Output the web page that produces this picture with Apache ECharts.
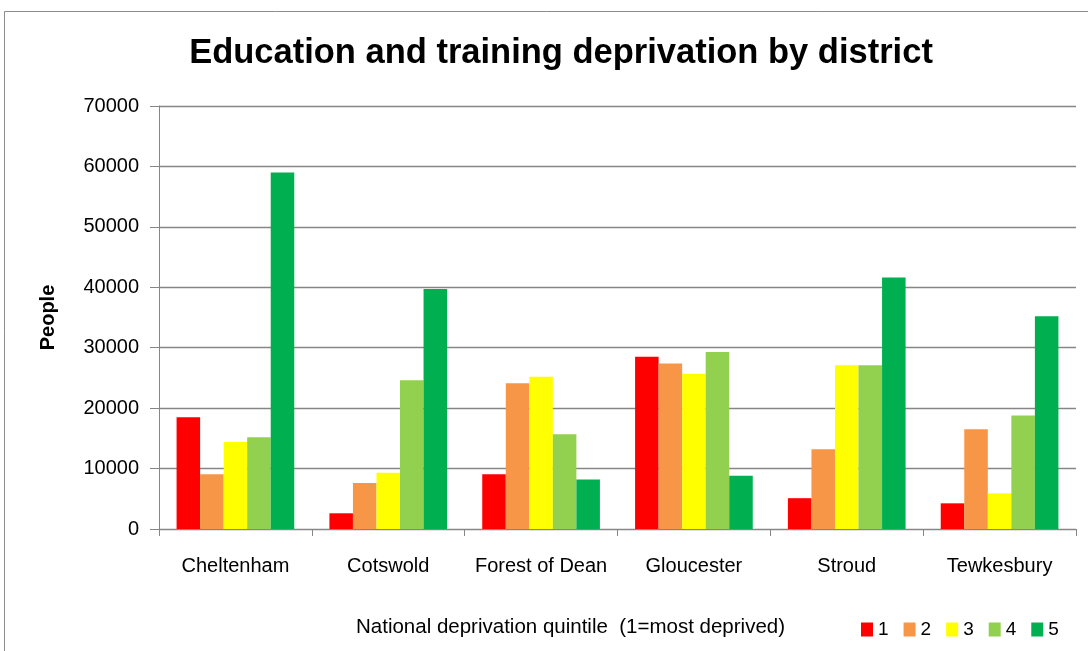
<!DOCTYPE html>
<html style="height: 100%">

<head>
  <meta charset="UTF-8" />
  <title>Education and training deprivation by district</title>
  <script src="https://cdn.jsdelivr.net/npm/echarts@6/dist/echarts.min.js"></script>
</head>

<body style="height: 100%; margin: 0; background: #fff">
  <div id="main" style="width: 1088px; height: 651px"></div>
  <script>
    const districts = ['Cheltenham', 'Cotswold', 'Forest of Dean', 'Gloucester', 'Stroud', 'Tewkesbury'];
    const quintiles = ['1', '2', '3', '4', '5'];
    const colors = ['#FF0000', '#F79646', '#FFFF00', '#92D050', '#00B050'];

    // people per district, one array per quintile
    const q1 = [18500, 2600, 9050, 28500, 5100, 4250];
    const q2 = [9050, 7600, 24100, 27400, 13200, 16500];
    const q3 = [14400, 9300, 25200, 25700, 27100, 5900];
    const q4 = [15200, 24600, 15700, 29300, 27100, 18800];
    const q5 = [59000, 39700, 8200, 8800, 41600, 35200];
    const values = [q1, q2, q3, q4, q5];

    const font = '"Liberation Sans", Arial, sans-serif';
    const chart = echarts.init(document.getElementById('main'));

    const option = {
      animation: false,
      backgroundColor: '#fff',
      textStyle: { fontFamily: font },
      title: [
        {
          text: 'Education and training deprivation by district',
          left: 556,
          textAlign: 'center',
          top: 31,
          textStyle: { fontSize: 34.5, fontWeight: 'bold', color: '#000', fontFamily: font },
        },
        {
          text: 'National deprivation quintile  (1=most deprived)',
          left: 351,
          top: 612,
          textStyle: { fontSize: 20.5, fontWeight: 'normal', color: '#000', fontFamily: font },
        },
      ],
      legend: {
        left: 856,
        top: 615,
        itemWidth: 12,
        itemHeight: 14,
        itemGap: 15,
        icon: 'rect',
        textStyle: { fontSize: 19, color: '#000', fontFamily: font },
        data: quintiles,
      },
      graphic: [
        {
          type: 'rect',
          shape: { x: 4.5, y: 11.5, width: 1100, height: 700 },
          style: { fill: 'none', stroke: '#8c8c8c', lineWidth: 1 },
          silent: true,
        },
      ],
      grid: { left: 159, right: 12, top: 106, bottom: 122 },
      xAxis: {
        type: 'category',
        data: districts,
        axisLine: { lineStyle: { color: '#868686' } },
        axisTick: { show: true, length: 7, lineStyle: { color: '#868686' } },
        axisLabel: { interval: 0, fontSize: 20, color: '#000', margin: 27, fontFamily: font },
      },
      yAxis: {
        type: 'value',
        min: 0,
        max: 70000,
        interval: 10000,
        name: 'People',
        nameLocation: 'middle',
        nameGap: 101,
        nameTextStyle: { fontSize: 20, fontWeight: 'bold', color: '#000', fontFamily: font },
        axisLine: { show: true, lineStyle: { color: '#868686' } },
        axisTick: { show: true, length: 9, lineStyle: { color: '#868686' } },
        axisLabel: {
          fontSize: 20,
          color: '#000',
          margin: 20,
          fontFamily: font,
          formatter: function (v) { return String(v); },
        },
        splitLine: { lineStyle: { color: '#868686', width: 1.3 } },
      },
      series: quintiles.map(function (q, i) {
        return {
          name: q,
          type: 'bar',
          data: values[i],
          barGap: '0%',
          barCategoryGap: '23%',
          itemStyle: { color: colors[i] },
        };
      }),
    };

    chart.setOption(option);
  </script>
</body>

</html>
